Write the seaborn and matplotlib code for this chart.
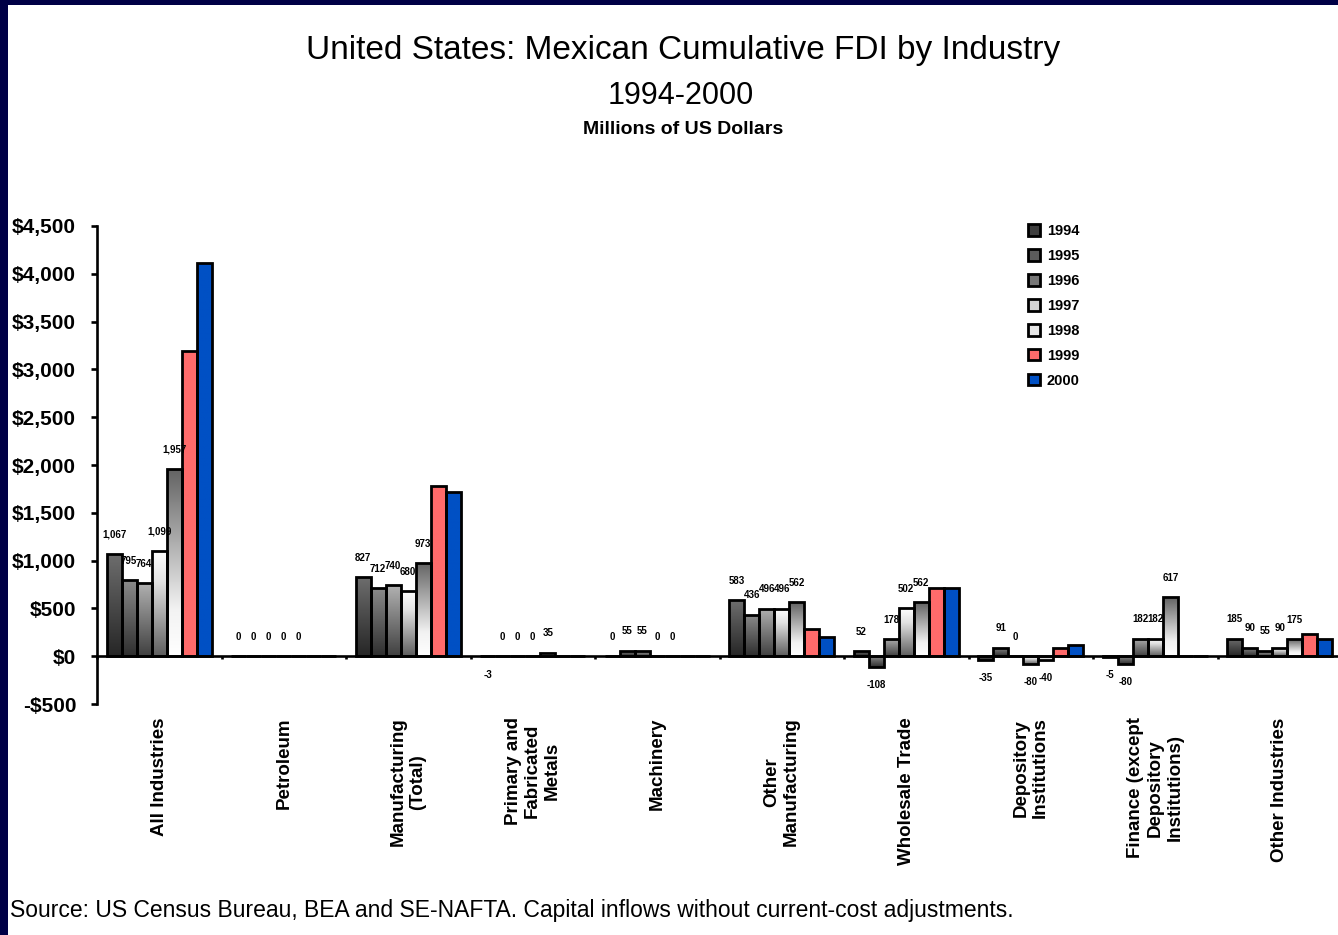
import numpy as np
import pandas as pd
import matplotlib
matplotlib.use("Agg")
import matplotlib.pyplot as plt
from matplotlib.colors import LinearSegmentedColormap
from matplotlib.patches import Patch, Rectangle
from matplotlib.ticker import FuncFormatter, FixedLocator
import seaborn as sns

# ---- data (millions of US dollars) ----
industries = [
    "All Industries",
    "Petroleum",
    "Manufacturing\n(Total)",
    "Primary and\nFabricated\nMetals",
    "Machinery",
    "Other\nManufacturing",
    "Wholesale Trade",
    "Depository\nInstitutions",
    "Finance (except\nDepository\nInstitutions)",
    "Other Industries",
]
years = ["1994", "1995", "1996", "1997", "1998", "1999", "2000"]

fdi_1994 = [1067, 0, 827, -3, 0, 583, 52, -35, -5, 185]
fdi_1995 = [795, 0, 712, 0, 55, 436, -108, 91, -80, 90]
fdi_1996 = [764, 0, 740, 0, 55, 496, 178, 0, 182, 55]
fdi_1997 = [1099, 0, 680, 0, 0, 496, 502, -80, 182, 90]
fdi_1998 = [1957, 0, 973, 35, 0, 562, 562, -40, 617, 175]
fdi_1999 = [3192, 0, 1779, 0, 0, 286, 710, 84, 0, 235]
fdi_2000 = [4113, 0, 1713, 0, 0, 206, 710, 115, 0, 175]

labelled_years = ["1994", "1995", "1996", "1997", "1998"]
y_ticks = [-500, 0, 500, 1000, 1500, 2000, 2500, 3000, 3500, 4000, 4500]

series = [fdi_1994, fdi_1995, fdi_1996, fdi_1997, fdi_1998, fdi_1999, fdi_2000]
df = pd.DataFrame(
    [(ind, yr, val) for yr, vals in zip(years, series) for ind, val in zip(industries, vals)],
    columns=["industry", "year", "value"],
)

# ---- styling ----
# vertical fills, top colour first
fills = {
    "1994": [(0.0, "#6e6e6e"), (1.0, "#262626")],
    "1995": [(0.0, "#8c8c8c"), (1.0, "#2e2e2e")],
    "1996": [(0.0, "#b2b2b2"), (1.0, "#404040")],
    "1997": [(0.0, "#ffffff"), (0.3, "#e2e2e2"), (1.0, "#5e5e5e")],
    "1998": [(0.0, "#626262"), (0.75, "#f2f2f2"), (1.0, "#ffffff")],
    "1999": [(0.0, "#ff6b6b"), (1.0, "#ff6b6b")],
    "2000": [(0.0, "#0050c4"), (1.0, "#0050c4")],
}
legend_colors = {
    "1994": "#3e3e3e", "1995": "#5c5c5c", "1996": "#767676",
    "1997": "#d2d2d2", "1998": "#e6e6e6", "1999": "#ff6b6b", "2000": "#0050c4",
}
navy = "#000046"

sns.set_style("ticks")
plt.rcParams["font.family"] = ["Liberation Sans", "DejaVu Sans"]
plt.rcParams.update({
    "text.color": "black", "axes.labelcolor": "black",
    "xtick.color": "black", "ytick.color": "black", "axes.edgecolor": "black",
})

W, H = 1338, 935
fig = plt.figure(figsize=(W / 100, H / 100), dpi=100)
fig.patch.set_facecolor("white")
ax = fig.add_axes([97 / W, 1 - 704 / H, 1245 / W, 478 / H])

sns.barplot(
    data=df, x="industry", y="value", hue="year",
    order=industries, hue_order=years,
    palette=legend_colors, saturation=1, width=0.845,
    edgecolor="black", linewidth=2.0, errorbar=None,
    legend=False, ax=ax,
)

# gradient fills clipped to each bar
grad = np.linspace(0, 1, 256).reshape(-1, 1)
for yr, container in zip(years, ax.containers):
    cmap = LinearSegmentedColormap.from_list("fill_" + yr, fills[yr])
    for bar in container.patches:
        x0, w = bar.get_x(), bar.get_width()
        y0, h = bar.get_y(), bar.get_height()
        bar.set_facecolor("none")
        if h == 0:
            continue
        lo, hi = min(y0, y0 + h), max(y0, y0 + h)
        im = ax.imshow(grad, cmap=cmap, extent=(x0, x0 + w, lo, hi),
                       origin="upper", aspect="auto", interpolation="bilinear",
                       zorder=bar.get_zorder() - 0.05)
        im.set_clip_path(bar)

# value labels for the first five years
for yr, container in zip(years, ax.containers):
    if yr not in labelled_years:
        continue
    vals = df[df["year"] == yr].set_index("industry").loc[industries, "value"].to_numpy()
    for bar, v in zip(container.patches, vals):
        cx = bar.get_x() + bar.get_width() / 2
        off = 14 if v >= 0 else -13
        ax.annotate(f"{v:,.0f}", (cx, v), xytext=(0, off), textcoords="offset points",
                    ha="center", va="center", fontsize=7, fontweight="bold", color="black")

ax.set_xlim(-0.5, len(industries) - 0.5)
ax.set_ylim(-500, 4500)
ax.set_xlabel("")
ax.set_ylabel("")

# axes, spines, ticks
for s in ["top", "right"]:
    ax.spines[s].set_visible(False)
ax.spines["left"].set_linewidth(1.9)
ax.spines["bottom"].set_position(("data", 0))
ax.spines["bottom"].set_linewidth(1.9)
ax.spines["bottom"].set_zorder(3)

ax.yaxis.set_major_locator(FixedLocator(y_ticks))
ax.yaxis.set_major_formatter(FuncFormatter(lambda v, p: f"-${abs(v):,.0f}" if v < 0 else f"${v:,.0f}"))
ax.tick_params(axis="y", which="major", direction="out", length=4, width=1.9, pad=11)
for lab in ax.get_yticklabels():
    lab.set_fontsize(15)
    lab.set_fontweight("bold")

ax.set_xticks(range(len(industries)))
ax.set_xticklabels(industries, rotation=90, fontsize=13.5, fontweight="bold",
                   multialignment="center", va="top", ha="center")
ax.set_xticks(np.arange(-0.5, len(industries), 1.0), minor=True)
ax.tick_params(axis="x", which="major", length=0, pad=44)
ax.tick_params(axis="x", which="minor", direction="out", length=2.5, width=1.9)

# legend
handles = [Patch(facecolor=legend_colors[y], edgecolor="black", linewidth=2) for y in years]
fig.legend(handles, years, loc="upper left", bbox_to_anchor=(1028 / W, 1 - 224 / H),
           frameon=False, prop={"size": 10.5, "weight": "bold"},
           handlelength=0.85, handleheight=0.85, handletextpad=0.45,
           labelspacing=0.75, borderpad=0, borderaxespad=0)

# titles and source
fig.text(683 / W, 1 - 51 / H, "United States: Mexican Cumulative FDI by Industry",
         ha="center", va="center", fontsize=24)
fig.text(681 / W, 1 - 96 / H, "1994-2000", ha="center", va="center", fontsize=22)
fig.text(683 / W, 1 - 130 / H, "Millions of US Dollars", ha="center", va="center",
         fontsize=14, fontweight="bold")
fig.text(10 / W, 1 - 911 / H,
         "Source: US Census Bureau, BEA and SE-NAFTA. Capital inflows without current-cost adjustments.",
         ha="left", va="center", fontsize=16.5)

# dark frame along the top and left edges
fig.add_artist(Rectangle((0, 1 - 5 / H), 1, 5 / H, transform=fig.transFigure,
                         facecolor=navy, edgecolor="none", zorder=10))
fig.add_artist(Rectangle((0, 0), 8 / W, 1, transform=fig.transFigure,
                         facecolor=navy, edgecolor="none", zorder=10))

fig.savefig("out.png", dpi=100)
